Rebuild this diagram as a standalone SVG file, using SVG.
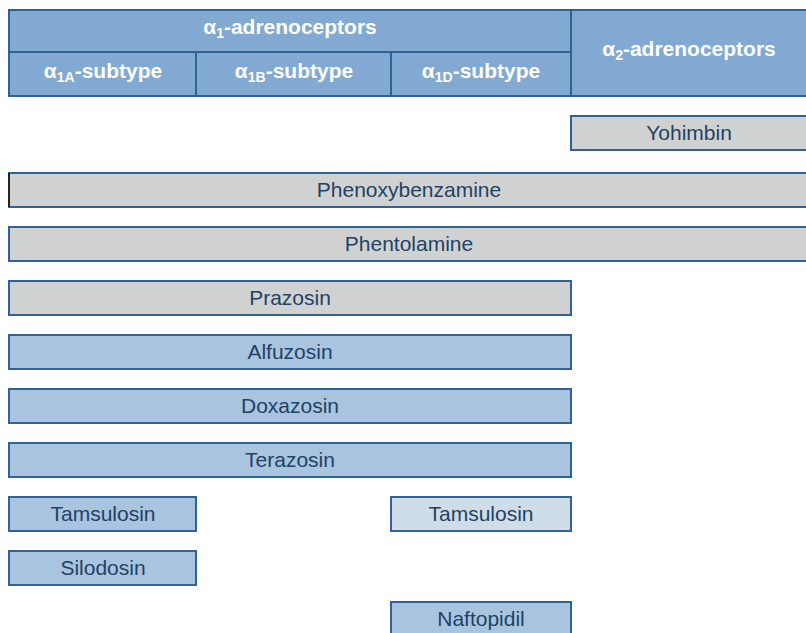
<svg xmlns="http://www.w3.org/2000/svg" width="806" height="633" viewBox="0 0 806 633">
<style>
.hdr{fill:#82a9d1;stroke:#2f6397;stroke-width:2}
.ht{fill:#fff;font-family:"Liberation Sans",Arial,sans-serif;font-weight:bold;font-size:21px;text-anchor:middle}
.gray{fill:#d0d2d1;stroke:#2f6397;stroke-width:2}
.blue{fill:#a8c4df;stroke:#2f6397;stroke-width:2}
.pale{fill:#cfdde9;stroke:#2f6397;stroke-width:2}
.t{fill:#1f4266;font-family:"Liberation Sans",Arial,sans-serif;font-size:21px;text-anchor:middle}
</style>
<g id="header">
<rect class="hdr" x="9" y="10" width="562" height="42"/>
<rect class="hdr" x="9" y="52" width="187" height="44"/>
<rect class="hdr" x="196" y="52" width="195" height="44"/>
<rect class="hdr" x="391" y="52" width="180" height="44"/>
<rect class="hdr" x="571" y="10" width="240" height="86"/>
<text class="ht" x="290" y="34">α<tspan font-size="14" dy="4">1</tspan><tspan dy="-4">-adrenoceptors</tspan></text>
<text class="ht" x="103" y="78">α<tspan font-size="14" dy="4">1A</tspan><tspan dy="-4">-subtype</tspan></text>
<text class="ht" x="294" y="78">α<tspan font-size="14" dy="4">1B</tspan><tspan dy="-4">-subtype</tspan></text>
<text class="ht" x="481" y="78">α<tspan font-size="14" dy="4">1D</tspan><tspan dy="-4">-subtype</tspan></text>
<text class="ht" x="689" y="56">α<tspan font-size="14" dy="4">2</tspan><tspan dy="-4">-adrenoceptors</tspan></text>
</g>
<g id="yohimbin"><rect class="gray" x="571" y="116" width="240" height="34"/><text class="t" x="689" y="140">Yohimbin</text></g>
<g id="phenoxybenzamine"><rect class="gray" x="9" y="173" width="802" height="34"/><line x1="9" y1="173" x2="9" y2="207" stroke="#222" stroke-width="2"/><text class="t" x="409" y="197">Phenoxybenzamine</text></g>
<g id="phentolamine"><rect class="gray" x="9" y="227" width="802" height="34"/><text class="t" x="409" y="251">Phentolamine</text></g>
<g id="prazosin"><rect class="gray" x="9" y="281" width="562" height="34"/><text class="t" x="290" y="305">Prazosin</text></g>
<g id="alfuzosin"><rect class="blue" x="9" y="335" width="562" height="34"/><text class="t" x="290" y="359">Alfuzosin</text></g>
<g id="doxazosin"><rect class="blue" x="9" y="389" width="562" height="34"/><text class="t" x="290" y="413">Doxazosin</text></g>
<g id="terazosin"><rect class="blue" x="9" y="443" width="562" height="34"/><text class="t" x="290" y="467">Terazosin</text></g>
<g id="tamsulosin-a"><rect class="blue" x="9" y="497" width="187" height="34"/><text class="t" x="103" y="521">Tamsulosin</text></g>
<g id="tamsulosin-d"><rect class="pale" x="391" y="497" width="180" height="34"/><text class="t" x="481" y="521">Tamsulosin</text></g>
<g id="silodosin"><rect class="blue" x="9" y="551" width="187" height="34"/><text class="t" x="103" y="575">Silodosin</text></g>
<g id="naftopidil"><rect class="blue" x="391" y="602" width="180" height="40"/><text class="t" x="481" y="626">Naftopidil</text></g>
<g id="connectors"/>
</svg>
